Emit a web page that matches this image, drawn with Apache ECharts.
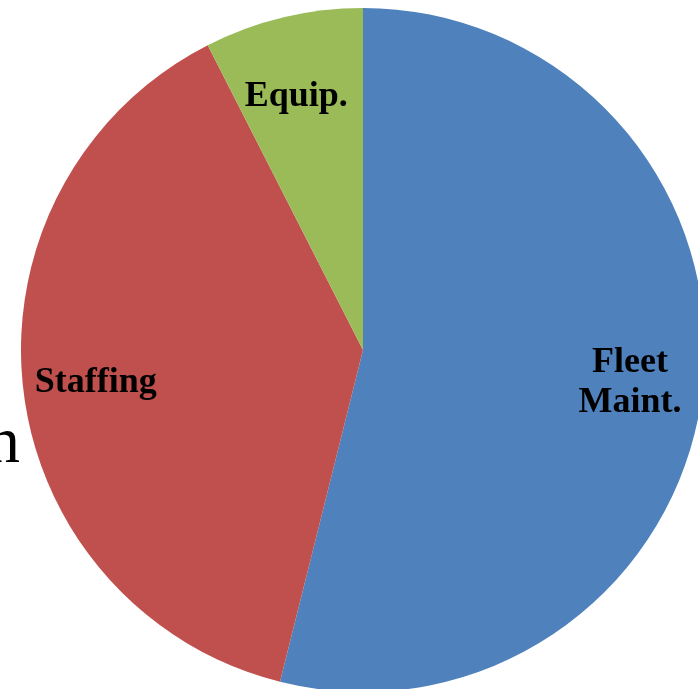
<!DOCTYPE html>
<html>
<head>
<meta charset="utf-8">
<script src="https://cdn.jsdelivr.net/npm/echarts@6/dist/echarts.min.js"></script>
<style>html,body{margin:0;padding:0;background:#fff;}#c{width:698px;height:689px;}</style>
</head>
<body>
<div id="c"></div>
<script>
const categories = ['Fleet\nMaint.', 'Staffing', 'Equip.'];
const values = [53.9, 38.6, 7.5];
const colors = ['#4F81BD', '#C0504D', '#9BBB59'];
const labelOffsets = [[0, 0], [0, 2], [-4, 8]];

const chart = echarts.init(document.getElementById('c'), null, {renderer: 'canvas'});
const data = categories.map((c, i) => ({name: c, value: values[i], itemStyle: {color: colors[i]}}));
const labelData = categories.map((c, i) => ({name: c, value: values[i], label: {offset: labelOffsets[i]}}));
chart.setOption({
  backgroundColor: '#ffffff',
  animation: false,
  graphic: [{
    type: 'text', left: -13, top: 412,
    style: {text: 'n', font: '66px "Liberation Serif"', fill: '#000'}
  }],
  series: [{
    type: 'pie',
    center: [363, 350],
    radius: [0, 342],
    startAngle: 90,
    clockwise: true,
    label: {show: false},
    labelLine: {show: false},
    itemStyle: {borderWidth: 0},
    emphasis: {disabled: true},
    data: data
  }, {
    type: 'pie',
    center: [363, 350],
    radius: [190, 342],
    startAngle: 90,
    clockwise: true,
    silent: true,
    itemStyle: {color: 'rgba(0,0,0,0)', borderWidth: 0},
    label: {
      show: true, position: 'inside', formatter: '{b}',
      color: '#000', fontFamily: 'Liberation Serif', fontWeight: 'bold',
      fontSize: 36, lineHeight: 40, align: 'center'
    },
    labelLine: {show: false},
    emphasis: {disabled: true},
    data: labelData
  }]
});
</script>
</body>
</html>
